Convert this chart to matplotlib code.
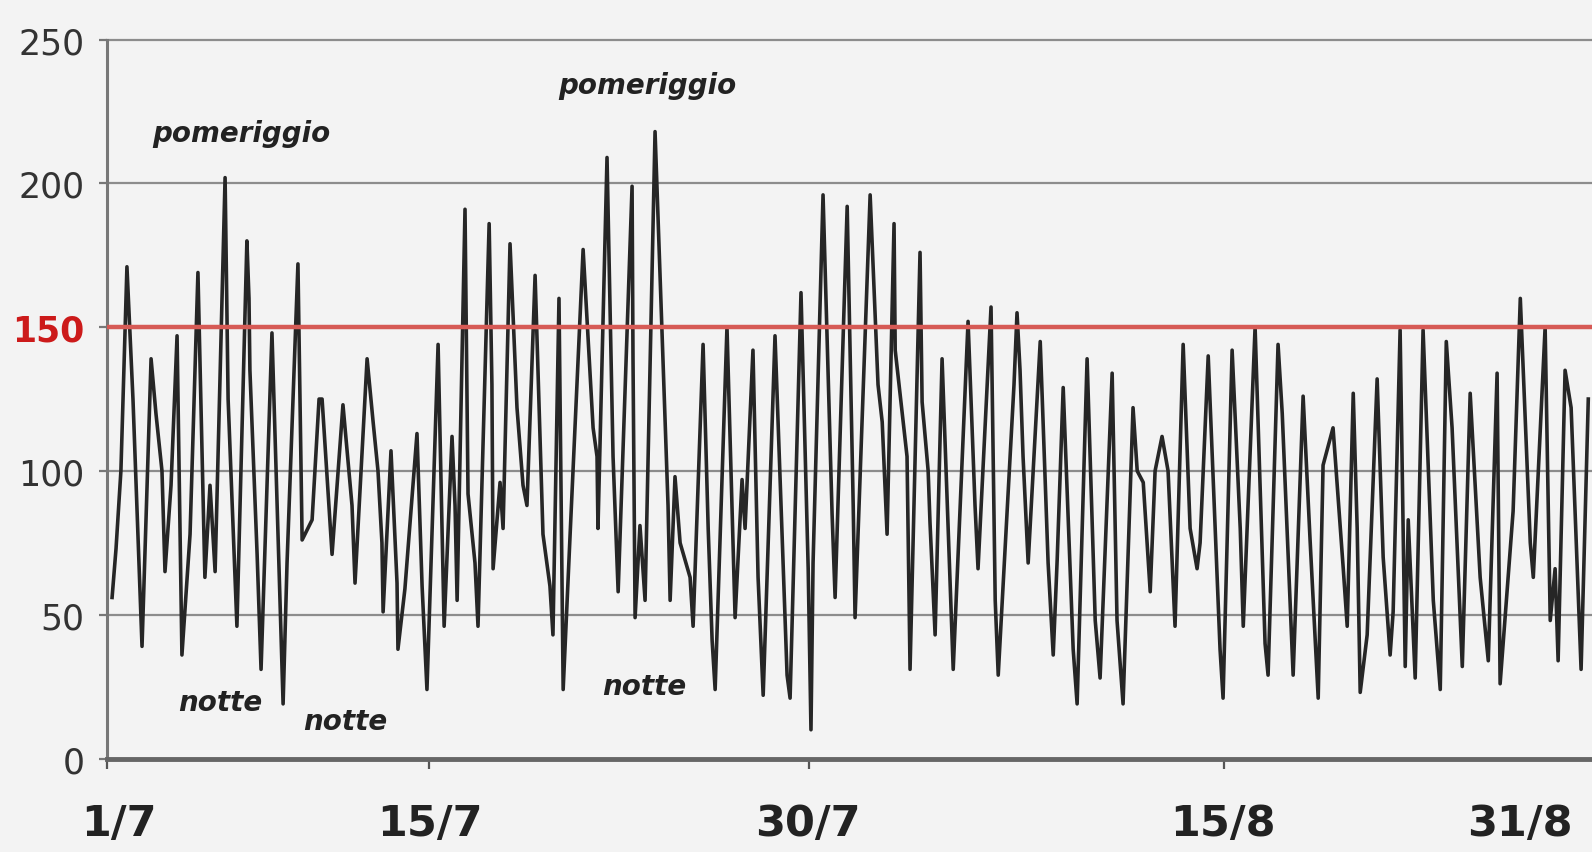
#!/usr/bin/env python3
"""Andamento orario (1/7 - 31/8) con soglia a 150"""

import matplotlib.pyplot as plt
import matplotlib

matplotlib.rcParams['font.family'] = ['DejaVu Sans']

# dati: giorno (da 1/7) e valore
giorno = [0.22, 0.39, 0.60, 0.86, 1.12, 1.51, 1.90, 2.11, 2.37, 2.50, 2.76, 3.02, 3.23, 3.58,
          3.92, 4.22, 4.44, 4.66, 5.09, 5.22, 5.60, 6.03, 6.12, 6.16, 6.47, 6.64, 7.11, 7.59,
          7.76, 8.23, 8.41, 8.84, 9.14, 9.27, 9.70, 10.17, 10.56, 10.69, 11.21, 11.47, 11.68,
          11.85, 11.90, 12.24, 12.50, 12.54, 12.84, 13.36, 13.58, 13.79, 14.27, 14.53, 14.87,
          15.00, 15.09, 15.43, 15.56, 15.86, 15.99, 16.47, 16.59, 16.64, 16.94, 17.07, 17.37,
          17.67, 17.93, 18.10, 18.45, 18.79, 19.09, 19.22, 19.48, 19.66, 19.96, 20.52, 20.95,
          21.12, 21.16, 21.55, 21.81, 22.03, 22.63, 22.67, 22.76, 22.97, 23.19, 23.62, 24.18,
          24.27, 24.48, 24.70, 25.13, 25.26, 25.69, 25.91, 26.08, 26.21, 26.72, 27.07, 27.37,
          27.50, 27.84, 28.06, 28.28, 28.79, 29.31, 29.44, 29.91, 30.22, 30.34, 30.43, 30.86,
          31.25, 31.38, 31.90, 32.16, 32.24, 32.89, 33.23, 33.41, 33.62, 33.92, 33.97, 34.48,
          34.61, 35.04, 35.13, 35.39, 35.47, 35.69, 35.99, 36.47, 37.11, 37.41, 37.54, 38.10,
          38.28, 38.41, 39.09, 39.22, 39.35, 39.48, 39.70, 40.22, 40.56, 40.78, 40.95, 41.21,
          41.64, 41.81, 42.24, 42.59, 42.80, 43.32, 43.53, 43.79, 44.22, 44.40, 44.66, 44.96,
          45.17, 45.47, 45.73, 46.03, 46.38, 46.68, 46.98, 47.11, 47.46, 47.97, 48.10, 48.49,
          48.84, 48.97, 49.48, 49.91, 50.04, 50.47, 50.65, 51.12, 51.55, 51.85, 52.20, 52.41,
          52.84, 53.28, 53.45, 53.71, 53.88, 54.01, 54.31, 54.74, 55.00, 55.30, 55.43, 55.73,
          55.95, 56.08, 56.38, 56.72, 57.16, 57.46, 57.72, 57.97, 58.41, 58.75, 59.18, 59.53,
          59.91, 60.04, 60.60, 60.91, 61.34, 61.47, 61.98, 62.20, 62.41, 62.54, 62.84, 63.10,
          63.53, 63.84]

valore = [56, 73, 100, 171, 125, 39, 139, 120, 100, 65, 95, 147, 36, 78,
          169, 63, 95, 65, 202, 125, 46, 180, 160, 135, 71, 31, 148, 19,
          68, 172, 76, 83, 125, 125, 71, 123, 88, 61, 139, 117, 100,
          75, 51, 107, 61, 38, 59, 113, 60, 24, 144, 46, 112,
          88, 55, 191, 92, 68, 46, 186, 130, 66, 96, 80, 179,
          122, 95, 88, 168, 78, 60, 43, 160, 24, 78, 177, 115,
          105, 80, 209, 105, 58, 199, 139, 49, 81, 55, 218, 88,
          55, 98, 75, 63, 46, 144, 80, 41, 24, 150, 49, 97,
          80, 142, 63, 22, 147, 29, 21, 162, 66, 10, 68, 196,
          85, 56, 192, 88, 49, 196, 130, 117, 78, 186, 142, 105,
          31, 176, 124, 100, 82, 43, 139, 31, 152, 88, 66, 157,
          55, 29, 130, 155, 135, 105, 68, 145, 68, 36, 69, 129,
          38, 19, 139, 48, 28, 134, 48, 19, 122, 100, 96, 58,
          100, 112, 100, 46, 144, 80, 66, 75, 140, 38, 21, 142,
          80, 46, 150, 40, 29, 144, 120, 29, 126, 76, 21, 102,
          115, 66, 46, 127, 80, 23, 43, 132, 70, 36, 51, 149,
          32, 83, 28, 149, 55, 24, 145, 115, 32, 127, 63, 34,
          134, 26, 86, 160, 75, 63, 150, 48, 66, 34, 135, 122,
          31, 125]

tick_pos = [0.5, 13.9, 30.2, 48.1, 60.9]
tick_mark = [0, 13.88, 30.26, 48.15]
tick_lab = ['1/7', '15/7', '30/7', '15/8', '31/8']
y_ticks = [0, 50, 100, 150, 200, 250]
soglia = 150

bg = '#f3f3f3'
fig = plt.figure(figsize=(15.92, 8.53), dpi=100, facecolor=bg)
ax = fig.add_axes([0.0672, 0.1096, 0.9328, 0.8428], facecolor=bg)

# griglia orizzontale
for y in [50, 100, 200, 250]:
    ax.axhline(y, color='#8c8c8c', linewidth=1.6, zorder=1, clip_on=False)
ax.axhline(soglia, color='#d65a55', linewidth=3.2, zorder=3)

ax.plot(giorno, valore, color='#262626', linewidth=2.6, zorder=2)

ax.set_xlim(0, 64)
ax.set_ylim(0, 250)

ax.spines['top'].set_visible(False)
ax.spines['right'].set_visible(False)
ax.spines['left'].set_color('#777777')
ax.spines['left'].set_linewidth(2.2)
ax.spines['bottom'].set_color('#666666')
ax.spines['bottom'].set_linewidth(3.5)

ax.set_yticks(y_ticks)
ax.set_yticklabels([str(v) for v in y_ticks], fontsize=25, color='#333333')
ax.get_yticklabels()[3].set_color('#cc1a1a')
ax.get_yticklabels()[3].set_fontweight('bold')
ax.tick_params(axis='y', length=6, width=1.6, color='#777777', pad=10)

# trattini sull'asse x e date sotto
ax.set_xticks(tick_mark)
ax.set_xticklabels([])
ax.tick_params(axis='x', length=7, width=1.6, color='#555555')
for x, lab in zip(tick_pos, tick_lab):
    ax.text(x, -15, lab, fontsize=31, fontweight='bold', color='#222222',
            ha='center', va='top', clip_on=False)

# etichette
txt = dict(fontsize=20, style='italic', fontweight='bold', color='#222222',
           ha='center', va='center')
ax.text(5.78, 217.5, 'pomeriggio', **txt)
ax.text(23.28, 234.2, 'pomeriggio', **txt)
ax.text(4.87, 19.6, 'notte', **txt)
ax.text(10.26, 13.0, 'notte', **txt)
ax.text(23.15, 25.2, 'notte', **txt)

plt.savefig('out.png', dpi=100, facecolor=bg)
plt.close()
